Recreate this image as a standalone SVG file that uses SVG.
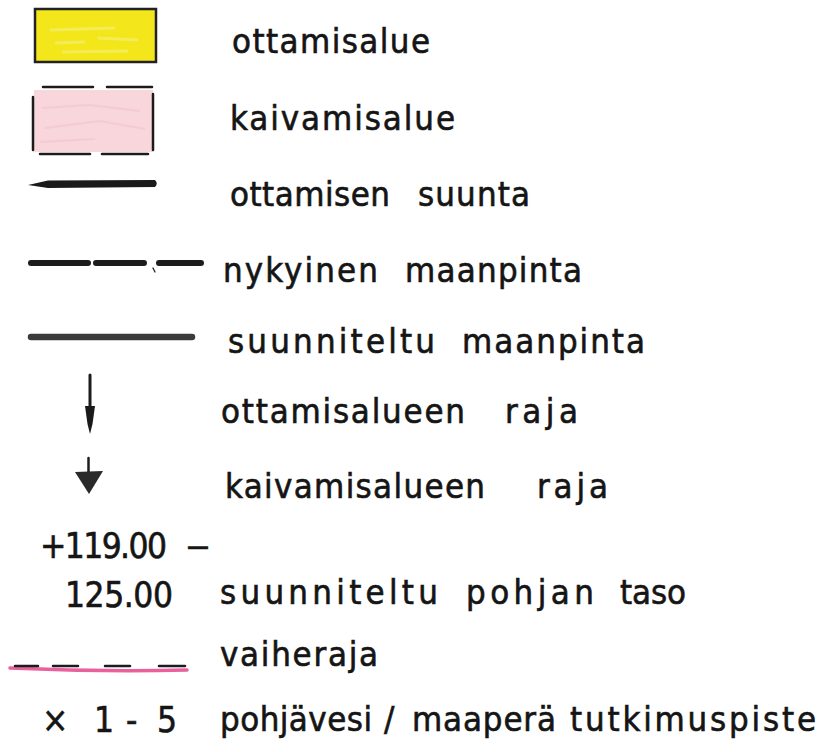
<svg xmlns="http://www.w3.org/2000/svg" width="819" height="752" viewBox="0 0 819 752">
<style>
text{font-family:"DejaVu Sans Condensed","DejaVu Sans","Liberation Sans",sans-serif;font-size:34.5px;fill:#151515;stroke:#151515;stroke-width:0.6px}
.num{font-size:35px}
.ink{stroke:#1c1c1c;fill:none;stroke-linecap:round}
</style>
<rect width="819" height="752" fill="#ffffff"/>
<g id="ottamisalue">
<rect x="35" y="9" width="121" height="53" fill="#f3e61a" stroke="#222" stroke-width="2.5"/>
<path d="M50 30 L115 28 M55 43 L85 42 M98 38 L138 40 M62 52 L128 51" stroke="#f6ee80" stroke-width="3" fill="none" opacity="0.6"/>
<text x="232" y="53" textLength="198" lengthAdjust="spacing">ottamisalue</text>
</g>
<g id="kaivamisalue">
<rect x="34" y="90" width="119" height="62" fill="#f8d6db"/>
<path d="M42 108 L90 105 L140 111 M45 128 L100 121 L145 129 M40 142 L95 139" stroke="#f2c6cc" stroke-width="2" fill="none" opacity="0.7"/>
<path class="ink" stroke-width="2.5" d="M43 87 H93 M107 87 H152 M40 154 H90 M102 154 H148 M33 97 V150 M153 94 V150"/>
<text x="230" y="130" textLength="225" lengthAdjust="spacing">kaivamisalue</text>
</g>
<g id="ottamisen-suunta">
<path d="M28 185 L48 180.5 L155 180 Q158.5 183.5 155 187 L48 188 Z" fill="#1a1a1a"/>
<text x="230" y="206"><tspan x="230" textLength="160" lengthAdjust="spacing">ottamisen</tspan><tspan x="418" textLength="112" lengthAdjust="spacing">suunta</tspan></text>
</g>
<g id="nykyinen-maanpinta">
<path class="ink" stroke-width="6" d="M31 263 H88 M96 263 H144 M159 263 H201"/>
<path class="ink" stroke-width="1.2" d="M153 268 L155 272"/>
<text x="223" y="282"><tspan x="223" textLength="155" lengthAdjust="spacing">nykyinen</tspan><tspan x="405" textLength="177" lengthAdjust="spacing">maanpinta</tspan></text>
</g>
<g id="suunniteltu-maanpinta">
<path d="M31 337 H192" stroke="#3b3b3b" stroke-width="6.5" stroke-linecap="round" fill="none"/>
<text x="228" y="353"><tspan x="228" textLength="207" lengthAdjust="spacing">suunniteltu</tspan><tspan x="462" textLength="183" lengthAdjust="spacing">maanpinta</tspan></text>
</g>
<g id="ottamisalueen-raja">
<path class="ink" stroke-width="3" d="M90 375 V410"/>
<path d="M85 406 L95 406 L92.5 424 L90 434 L87.5 424 Z" fill="#1a1a1a"/>
<text x="221" y="423"><tspan x="221" textLength="244" lengthAdjust="spacing">ottamisalueen</tspan><tspan x="505" textLength="73" lengthAdjust="spacing">raja</tspan></text>
</g>
<g id="kaivamisalueen-raja">
<path class="ink" stroke-width="2.5" d="M88.5 458 V473"/>
<path d="M75 472 L103 471 L89 494 Z" fill="#2a2a2a"/>
<text x="225" y="498"><tspan x="225" textLength="260" lengthAdjust="spacing">kaivamisalueen</tspan><tspan x="537" textLength="71" lengthAdjust="spacing">raja</tspan></text>
</g>
<g id="pohjan-taso">
<text class="num" x="40" y="558"><tspan x="40" textLength="127" lengthAdjust="spacing">+119.00</tspan><tspan x="186" textLength="24" lengthAdjust="spacingAndGlyphs">–</tspan></text>
<text class="num" x="65" y="607" textLength="108" lengthAdjust="spacing">125.00</text>
<text x="220" y="604"><tspan x="220" textLength="218" lengthAdjust="spacing">suunniteltu</tspan><tspan x="466" textLength="128" lengthAdjust="spacing">pohjan</tspan><tspan x="620" textLength="66" lengthAdjust="spacing">taso</tspan></text>
</g>
<g id="vaiheraja">
<path d="M10 668 Q100 672 187 670" stroke="#e8619d" stroke-width="3.5" fill="none" stroke-linecap="round"/>
<path class="ink" stroke-width="2.5" stroke="#333" d="M15 666 H38 M53 666 H78 M105 666 H130 M159 666 H185"/>
<text x="220" y="666" textLength="158" lengthAdjust="spacing">vaiheraja</text>
</g>
<g id="tutkimuspiste">
<text class="num" x="42" y="732"><tspan x="42" textLength="20" lengthAdjust="spacing">×</tspan><tspan x="94" textLength="10" lengthAdjust="spacing">1</tspan><tspan x="126" textLength="13" lengthAdjust="spacing">-</tspan><tspan x="157" textLength="21" lengthAdjust="spacing">5</tspan></text>
<text x="220" y="731"><tspan x="220" textLength="152" lengthAdjust="spacing">pohjävesi</tspan><tspan x="384" textLength="14" lengthAdjust="spacing">/</tspan><tspan x="412" textLength="144" lengthAdjust="spacing">maaperä</tspan><tspan x="570" textLength="246" lengthAdjust="spacing">tutkimuspiste</tspan></text>
</g>
</svg>
